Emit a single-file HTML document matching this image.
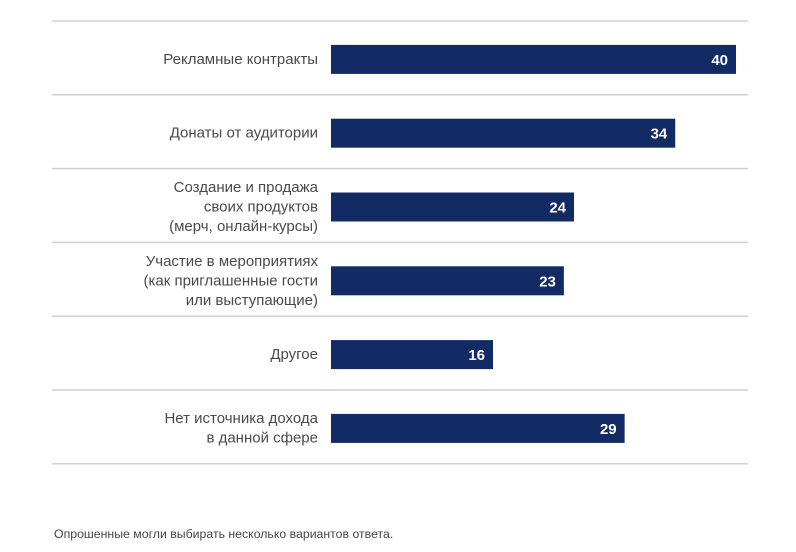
<!DOCTYPE html>
<html><head><meta charset="utf-8"><style>
body{margin:0;background:#fff;width:796px;height:547px;overflow:hidden;font-family:"Liberation Sans",sans-serif}
</style></head><body>
<svg id="c" width="796" height="547"></svg>
<script>
const categories=[["Рекламные контракты"],["Донаты от аудитории"],["Создание и продажа","своих продуктов","(мерч, онлайн-курсы)"],["Участие в мероприятиях","(как приглашенные гости","или выступающие)"],["Другое"],["Нет источника дохода","в данной сфере"]];
const values=[40,34,24,23,16,29];
const NS="http://www.w3.org/2000/svg";
const svg=document.getElementById('c');
const x0=331,scale=405/40,top0=21,rowH=73.8,barH=29;
const xPos=v=>x0+v*scale;
function mk(t,a){const e=document.createElementNS(NS,t);for(const k in a)e.setAttribute(k,a[k]);svg.appendChild(e);return e;}
for(let i=0;i<=values.length;i++){
 const l=mk('line',{x1:52,x2:748,y1:top0+i*rowH,y2:top0+i*rowH,stroke:'#d0d0d0','stroke-width':1.5});
 
 
}
values.forEach((v,i)=>{
 const cy=top0+rowH*(i+0.5)+1.5;
 const r=mk('rect',{x:x0,y:cy-barH/2,width:xPos(v)-x0,height:barH,fill:'#122b65'});
 
 
 const t=mk('text',{x:xPos(v)-8,y:cy+5.5,'text-anchor':'end',fill:'#fff','font-size':15,'font-weight':'bold'});
 t.textContent=v;
 
 
 const lines=categories[i],lh=19.5;
 lines.forEach((s,j)=>{
  const tt=mk('text',{x:318,y:cy+4.5+(j-(lines.length-1)/2)*lh,'text-anchor':'end',fill:'#4a4a4a','font-size':15});
  tt.textContent=s;
  
  
 });
});
const f=mk('text',{x:54,y:538,fill:'#444','font-size':12.3});
f.textContent='Опрошенные могли выбирать несколько вариантов ответа.';


</script>
</body></html>
